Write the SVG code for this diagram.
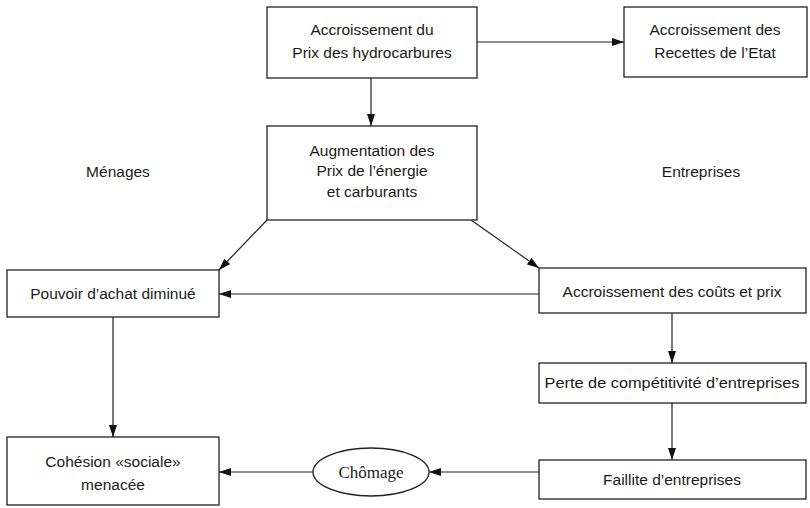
<svg xmlns="http://www.w3.org/2000/svg" width="810" height="508" viewBox="0 0 810 508">
<defs>
<marker id="ah" viewBox="0 0 12 8" refX="12" refY="4" markerWidth="12" markerHeight="8" markerUnits="userSpaceOnUse" orient="auto">
<path d="M0,0 L12,4 L0,8 Z" fill="#111"/>
</marker>
<style>
.box{fill:#fff;stroke:#222;stroke-width:1.3}
.t{font-family:"Liberation Sans","DejaVu Sans",sans-serif;font-size:15.5px;fill:#1a1a1a;text-anchor:middle}
.s{font-family:"Liberation Serif","DejaVu Serif",serif;font-size:17px;fill:#1a1a1a;text-anchor:middle}
.c{stroke:#222;stroke-width:1.2;fill:none;marker-end:url(#ah)}
</style>
</defs>
<rect width="810" height="508" fill="#fff"/>
<g id="connectors">
<line class="c" x1="371" y1="78" x2="371" y2="126"/>
<line class="c" x1="477" y1="42" x2="624" y2="42"/>
<line class="c" x1="267" y1="220" x2="219" y2="270"/>
<line class="c" x1="471" y1="220" x2="539" y2="268"/>
<line class="c" x1="539" y1="294" x2="219" y2="294"/>
<line class="c" x1="113" y1="317" x2="113" y2="437"/>
<line class="c" x1="672" y1="313" x2="672" y2="363"/>
<line class="c" x1="672" y1="403" x2="672" y2="460"/>
<line class="c" x1="539" y1="472" x2="429" y2="472"/>
<line class="c" x1="313" y1="472" x2="219" y2="472"/>
</g>
<g id="n1"><rect class="box" x="267" y="7" width="210" height="71"/><text class="t" x="372" y="35">Accroissement du</text><text class="t" x="372" y="58">Prix des hydrocarbures</text></g>
<g id="n2"><rect class="box" x="624" y="7" width="183" height="70"/><text class="t" x="715" y="35">Accroissement des</text><text class="t" x="715" y="58">Recettes de l’Etat</text></g>
<g id="n3"><rect class="box" x="267" y="126" width="210" height="94"/><text class="t" x="372" y="156">Augmentation des</text><text class="t" x="372" y="176">Prix de l’énergie</text><text class="t" x="372" y="197">et carburants</text></g>
<g id="lbl-menages"><text class="t" x="118" y="177">Ménages</text></g>
<g id="lbl-entreprises"><text class="t" x="701" y="177">Entreprises</text></g>
<g id="n4"><rect class="box" x="7" y="270" width="212" height="47"/><text class="t" x="113" y="299">Pouvoir d’achat diminué</text></g>
<g id="n5"><rect class="box" x="539" y="268" width="267" height="45"/><text class="t" x="672" y="297">Accroissement des coûts et prix</text></g>
<g id="n6"><rect class="box" x="539" y="363" width="267" height="40"/><text class="t" x="672" y="388" textLength="255" lengthAdjust="spacingAndGlyphs">Perte de compétitivité d’entreprises</text></g>
<g id="n7"><rect class="box" x="539" y="460" width="267" height="39"/><text class="t" x="672" y="485">Faillite d’entreprises</text></g>
<g id="n8"><ellipse class="box" cx="371" cy="472" rx="58" ry="24"/><text class="s" x="371" y="478">Chômage</text></g>
<g id="n9"><rect class="box" x="7" y="437" width="212" height="68"/><text class="t" x="113" y="467">Cohésion «sociale»</text><text class="t" x="113" y="490">menacée</text></g>
</svg>
